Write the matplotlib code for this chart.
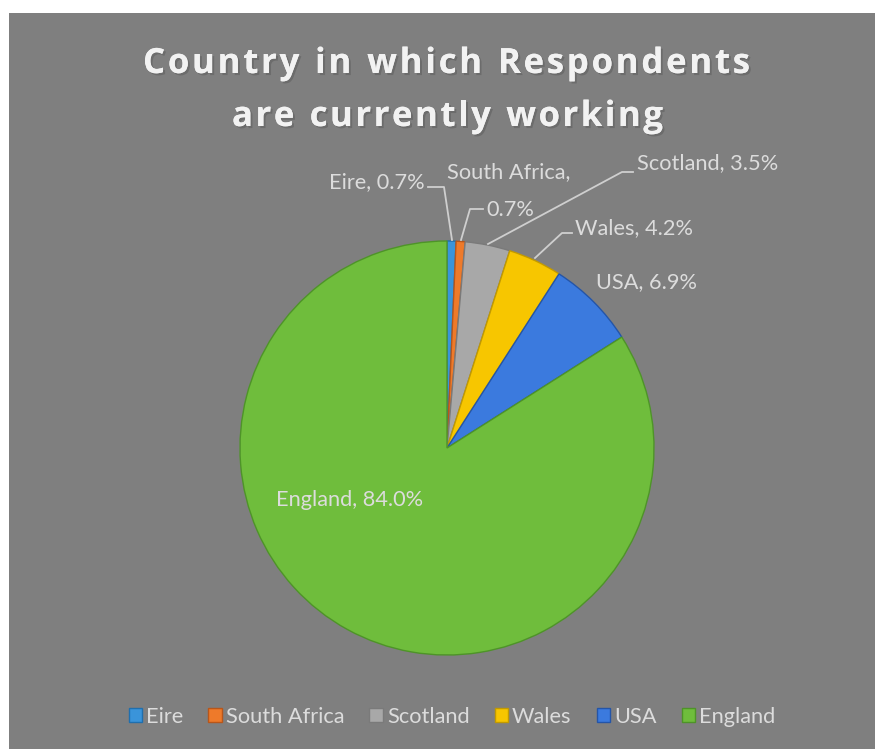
import matplotlib
matplotlib.use("Agg")
import matplotlib.pyplot as plt
import matplotlib.patches as mpatches
import matplotlib.patheffects as pe

# data
countries = ["Eire", "South Africa", "Scotland", "Wales", "USA", "England"]
shares = [0.7, 0.7, 3.5, 4.2, 6.9, 84.0]
colors = ["#3a94da", "#ee7a2a", "#a8a8a8", "#f7c600", "#3b7ade", "#6fbd3c"]
edges = ["#1f6fae", "#b8561a", "#7a7a7a", "#c29a00", "#2455a8", "#4e9428"]
title_lines = ["Country in which Respondents", "are currently working"]

W, H = 875, 749
fig = plt.figure(figsize=(W / 100, H / 100), dpi=100)
fig.patch.set_facecolor("white")

# gray chart area (starts a few px in from the top-left)
bg = mpatches.Rectangle((9 / W, 0), 1 - 9 / W, 1 - 13 / H, transform=fig.transFigure,
                        facecolor="#7f7f7f", edgecolor="none", zorder=-5)
fig.patches.append(bg)

cx, cy, r = 447, 448, 207
ax = fig.add_axes([(cx - r) / W, (H - cy - r) / H, 2 * r / W, 2 * r / H])
ax.axis("off")
ax.patch.set_visible(False)

wedges, _ = ax.pie(shares, colors=colors, startangle=90, counterclock=False, radius=1,
                   wedgeprops=dict(linewidth=1.0))
for w, ec in zip(wedges, edges):
    w.set_edgecolor(ec)
# pie() resets the limits, so set them afterwards
ax.set_xlim(-1, 1)
ax.set_ylim(-1, 1)
ax.set_aspect("equal")


def px(x, y):
    return ((x - cx) / r, (cy - y) / r)


lab_col = "#dcdcdc"
lab_font = dict(family="Lato", fontsize=15.7, color=lab_col)

# leader lines (pixel coords of the reference)
leaders = [
    [(452, 240), (444, 187), (428, 187)],
    [(461, 240), (470, 209), (483, 209)],
    [(488, 244), (622, 172), (633, 172)],
    [(535, 258), (562, 233), (572, 233)],
]
for pts in leaders:
    xs, ys = zip(*[px(a, b) for a, b in pts])
    ax.plot(xs, ys, color="#cfcfcf", lw=1.3, clip_on=False, zorder=1)

labels = [f"{c}, {s:.1f}%" for c, s in zip(countries, shares)]
ax.text(*px(425, 182), labels[0], ha="right", va="center", **lab_font)
ax.text(*px(509, 172), "South Africa,", ha="center", va="center", **lab_font)
ax.text(*px(510, 210), "0.7%", ha="center", va="center", **lab_font)
ax.text(*px(637, 163), labels[2], ha="left", va="center", **lab_font)
ax.text(*px(575, 228), labels[3], ha="left", va="center", **lab_font)
ax.text(*px(596, 282), labels[4], ha="left", va="center", **lab_font)
ax.text(*px(350, 500), labels[5], ha="center", va="center", **lab_font)

# title with letter spacing, drawn char by char
renderer = fig.canvas.get_renderer()
tfont = dict(family="Open Sans", fontweight="bold", fontsize=25, color="#f2f2f2")
shadow = [pe.withSimplePatchShadow(offset=(1.5, -1.5), alpha=0.35), pe.Normal()]
targets = [(143, 750, 73), (232, 663, 126)]
for line, (x0, x1, yb) in zip(title_lines, targets):
    widths = []
    for ch in line:
        t = fig.text(0, 0, ch if ch != " " else "n", **tfont)
        bb = t.get_window_extent(renderer)
        widths.append(bb.width if ch != " " else bb.width * 0.45)
        t.remove()
    gap = ((x1 - x0) - sum(widths)) / (len(line) - 1)
    x = x0
    for ch, wdt in zip(line, widths):
        if ch != " ":
            fig.text(x / W, 1 - yb / H, ch, ha="left", va="baseline", path_effects=shadow, **tfont)
        x += wdt + gap

handles = [mpatches.Patch(facecolor=c, edgecolor=e, label=n) for c, e, n in zip(colors, edges, countries)]
fig.legend(handles=handles, loc="center", bbox_to_anchor=(452 / W, 1 - 717 / H), ncol=6,
           frameon=False, handlelength=0.6, handleheight=0.6, handletextpad=0.2,
           columnspacing=1.15, prop=dict(family="Lato", size=15.7), labelcolor=lab_col)

fig.savefig("out.png", dpi=100, facecolor=fig.get_facecolor())
